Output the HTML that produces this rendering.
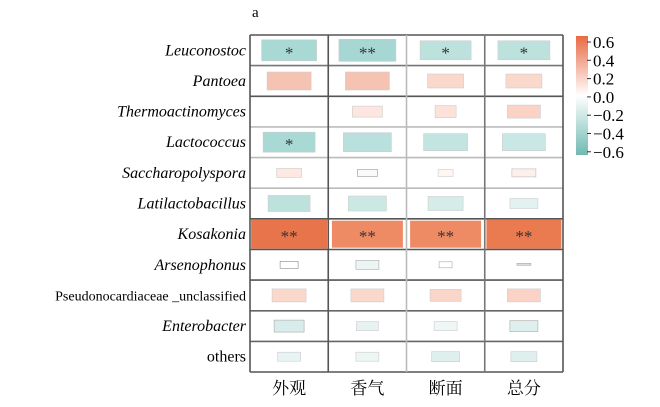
<!DOCTYPE html><html><head><style>body{margin:0;background:#fff}svg{display:block}</style></head><body>
<svg width="660" height="407" xmlns="http://www.w3.org/2000/svg" font-family="Liberation Serif, Noto Serif CJK SC, serif">
<defs><linearGradient id="cb" x1="0" y1="0" x2="0" y2="1">
<stop offset="0" stop-color="#e86a43"/><stop offset="0.5" stop-color="#ffffff"/><stop offset="1" stop-color="#6fbab2"/></linearGradient></defs>
<text x="252" y="17" font-size="15">a</text>
<g font-size="16" text-anchor="end">
<text x="246" y="55.3" font-style="italic">Leuconostoc</text>
<text x="246" y="86" font-style="italic">Pantoea</text>
<text x="246" y="116.6" font-style="italic">Thermoactinomyces</text>
<text x="246" y="147.2" font-style="italic">Lactococcus</text>
<text x="246" y="177.9" font-style="italic">Saccharopolyspora</text>
<text x="246" y="208.5" font-style="italic">Latilactobacillus</text>
<text x="246" y="239.2" font-style="italic">Kosakonia</text>
<text x="246" y="269.8" font-style="italic">Arsenophonus</text>
<text x="246" y="300.4" font-size="14">Pseudonocardiaceae _unclassified</text>
<text x="246" y="331.1" font-style="italic">Enterobacter</text>
<text x="246" y="361.7">others</text>
</g>
<g stroke="#ccc" stroke-width="0.6">
<rect x="261.6" y="39.8" width="55" height="21" fill="#a9d9d4"/>
<rect x="338.9" y="39.3" width="57" height="22" fill="#a6d7d2"/>
<rect x="420.1" y="40.8" width="51" height="19" fill="#bde2de"/>
<rect x="497.9" y="40.8" width="52" height="19" fill="#bde2de"/>
<rect x="267.1" y="72" width="44" height="18" fill="#f5c3b2"/>
<rect x="345.4" y="72" width="44" height="18" fill="#f5c3b2"/>
<rect x="427.6" y="74" width="36" height="14" fill="#fbd8cc"/>
<rect x="505.9" y="74" width="36" height="14" fill="#fbd8cc"/>
<rect x="352.4" y="106.1" width="30" height="11" fill="#fde6df"/>
<rect x="435.1" y="105.6" width="21" height="12" fill="#fde2d9"/>
<rect x="507.4" y="105.1" width="33" height="13" fill="#fbd3c6"/>
<rect x="263.1" y="132.2" width="52" height="20" fill="#a9d9d4"/>
<rect x="343.4" y="132.7" width="48" height="19" fill="#b9e0dc"/>
<rect x="423.6" y="133.7" width="44" height="17" fill="#c3e5e1"/>
<rect x="502.4" y="133.7" width="43" height="17" fill="#c9e7e4"/>
<rect x="276.6" y="168.4" width="25" height="9" fill="#fde8e2"/>
<rect x="357.4" y="169.4" width="20" height="7" fill="#fafafa" stroke="#999"/>
<rect x="438.1" y="169.4" width="15" height="7" fill="#fff6f3"/>
<rect x="511.9" y="168.9" width="24" height="8" fill="#fdf0ec" stroke="#bbb"/>
<rect x="268.1" y="195.5" width="42" height="16" fill="#bde2de"/>
<rect x="348.4" y="196" width="38" height="15" fill="#cce8e5"/>
<rect x="428.1" y="196.5" width="35" height="14" fill="#d5ece9"/>
<rect x="509.9" y="198.5" width="28" height="10" fill="#e2f2f0"/>
<rect x="251.1" y="219.7" width="76" height="29" fill="#e8744b" stroke="none"/>
<rect x="331.9" y="220.7" width="71" height="27" fill="#ee8b65" stroke="none"/>
<rect x="410.1" y="220.7" width="71" height="27" fill="#ee8b65" stroke="none"/>
<rect x="486.4" y="219.7" width="75" height="29" fill="#ea7a50" stroke="none"/>
<rect x="280.1" y="261.3" width="18" height="7" fill="#fff" stroke="#888"/>
<rect x="355.9" y="260.3" width="23" height="9" fill="#eaf5f4" stroke="#aaa"/>
<rect x="439.1" y="261.8" width="13" height="6" fill="#fff" stroke="#aaa"/>
<rect x="516.9" y="263.3" width="14" height="2" fill="#ddd" stroke="#aaa"/>
<rect x="272.1" y="288.9" width="34" height="13" fill="#fbd8cc"/>
<rect x="350.9" y="288.9" width="33" height="13" fill="#fbd8cc"/>
<rect x="430.1" y="289.4" width="31" height="12" fill="#fad5c9"/>
<rect x="507.4" y="288.9" width="33" height="13" fill="#fbd3c6"/>
<rect x="274.1" y="320.1" width="30" height="12" fill="#d8edeb" stroke="#aaa"/>
<rect x="356.4" y="321.6" width="22" height="9" fill="#e6f3f2"/>
<rect x="434.1" y="321.6" width="23" height="9" fill="#eef7f6"/>
<rect x="509.9" y="320.6" width="28" height="11" fill="#dfefee" stroke="#aaa"/>
<rect x="277.6" y="352.2" width="23" height="9" fill="#e8f4f3"/>
<rect x="355.9" y="352.2" width="23" height="9" fill="#ecf6f5"/>
<rect x="431.6" y="351.7" width="28" height="10" fill="#dfefee"/>
<rect x="510.9" y="351.7" width="26" height="10" fill="#dfefee"/>
</g>
<g font-size="17" text-anchor="middle" fill="#333">
<text x="289.1" y="58.3">*</text><text x="367.4" y="58.3">**</text><text x="445.6" y="58.3">*</text><text x="523.9" y="58.3">*</text>
<text x="289.1" y="150.2">*</text>
<text x="289.1" y="242.2">**</text><text x="367.4" y="242.2">**</text><text x="445.6" y="242.2">**</text><text x="523.9" y="242.2">**</text>
</g>
<g stroke-width="1.6">
<line x1="250" x2="563" y1="35" y2="35" stroke="#555"/>
<line x1="250" x2="563" y1="65.6" y2="65.6" stroke="#777"/>
<line x1="250" x2="563" y1="96.3" y2="96.3" stroke="#555"/>
<line x1="250" x2="563" y1="126.9" y2="126.9" stroke="#bbb"/>
<line x1="250" x2="563" y1="157.6" y2="157.6" stroke="#bbb"/>
<line x1="250" x2="563" y1="188.2" y2="188.2" stroke="#bbb"/>
<line x1="250" x2="563" y1="218.8" y2="218.8" stroke="#555"/>
<line x1="250" x2="563" y1="249.5" y2="249.5" stroke="#555"/>
<line x1="250" x2="563" y1="280.1" y2="280.1" stroke="#555"/>
<line x1="250" x2="563" y1="310.8" y2="310.8" stroke="#666"/>
<line x1="250" x2="563" y1="341.4" y2="341.4" stroke="#666"/>
<line x1="250" x2="563" y1="372" y2="372" stroke="#555"/>
<line x1="250" x2="250" y1="35" y2="372" stroke="#555"/>
<line x1="328.25" x2="328.25" y1="35" y2="372" stroke="#555"/>
<line x1="406.5" x2="406.5" y1="35" y2="372" stroke="#bbb"/>
<line x1="484.75" x2="484.75" y1="35" y2="372" stroke="#777"/>
<line x1="563" x2="563" y1="35" y2="372" stroke="#555"/>
</g>
<g font-size="17" text-anchor="middle">
<text x="289.1" y="394">外观</text><text x="367.4" y="394">香气</text><text x="445.6" y="394">断面</text><text x="523.9" y="394">总分</text>
</g>
<rect x="576" y="36" width="12" height="119" fill="url(#cb)"/>
<g stroke="#333">
<line x1="587" x2="591" y1="42" y2="42"/><line x1="587" x2="591" y1="60.3" y2="60.3"/><line x1="587" x2="591" y1="78.6" y2="78.6"/><line x1="587" x2="591" y1="96.9" y2="96.9"/><line x1="587" x2="591" y1="115.2" y2="115.2"/><line x1="587" x2="591" y1="133.5" y2="133.5"/><line x1="587" x2="591" y1="151.8" y2="151.8"/>
</g>
<g font-size="17">
<text x="593" y="48">0.6</text><text x="593" y="66.3">0.4</text><text x="593" y="84.6">0.2</text><text x="593" y="102.9">0.0</text>
<text x="593" y="121.2">−0.2</text><text x="593" y="139.5">−0.4</text><text x="593" y="157.8">−0.6</text>
</g>
</svg></body></html>
